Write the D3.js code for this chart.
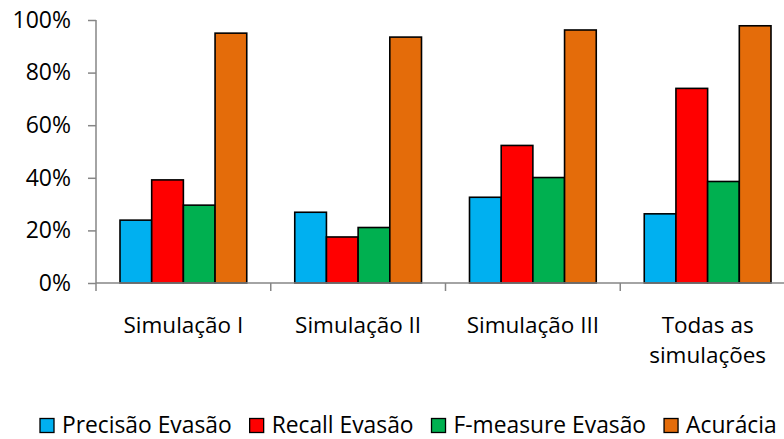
<!DOCTYPE html>
<html><head><meta charset="utf-8">
<script src="https://cdn.jsdelivr.net/npm/d3@7"></script>
<style>body{margin:0;background:#fff}svg{display:block}text{font-family:"Open Sans",sans-serif;fill:#000}</style>
</head><body><svg id="c" width="784" height="439"></svg>
<script>
const categories = [["Simulação I"],["Simulação II"],["Simulação III"],["Todas as","simulações"]];
const seriesNames = ["Precisão Evasão","Recall Evasão","F-measure Evasão","Acurácia"];
const precisao = [23.9, 26.9, 32.6, 26.3];
const recall   = [39.2, 17.5, 52.3, 74.0];
const fmeasure = [29.6, 21.1, 40.1, 38.6];
const acuracia = [95.0, 93.5, 96.2, 97.8];
const yTicks = [0,20,40,60,80,100];
const colors = ["#00B0F0","#FF0000","#00B050","#E46C0A"];

(function(){
const series = [precisao, recall, fmeasure, acuracia];
const svg = d3.select("#c");
const pL = 96, pR = 795, pT = 20, pB = 283;
const x = d3.scaleBand().domain(d3.range(categories.length)).range([pL, pR]).padding(0);
const gw = x.bandwidth();
const xi = d3.scaleBand().domain(d3.range(series.length)).range([24, gw-24]).padding(0);
const y = d3.scaleLinear().domain([0,100]).range([pB, pT]);
const axisColor = "#868686";

// bars
categories.forEach((c, ci) => {
  series.forEach((s, si) => {
    svg.append("rect")
      .attr("x", x(ci) + xi(si))
      .attr("y", y(s[ci]))
      .attr("width", xi.bandwidth())
      .attr("height", y(0) - y(s[ci]))
      .attr("fill", colors[si])
      .attr("stroke", "#000").attr("stroke-width", 1.6);
  });
});

// y axis
const ya = svg.append("g").attr("transform", `translate(${pL},0)`)
  .call(d3.axisLeft(y).tickValues(yTicks).tickSize(8).tickPadding(17).tickFormat(d => d + "%"));
ya.select(".domain").attr("stroke", axisColor).attr("stroke-width", 1.5).attr("d", `M0,${pT}V${pB}`);
ya.selectAll(".tick line").attr("stroke", axisColor).attr("stroke-width", 1.5);
ya.selectAll(".tick text").style("font-family", '"Open Sans",sans-serif').style("font-size", "23px").attr("fill", "#000");

// x axis
const xa = svg.append("g").attr("transform", `translate(0,${pB})`);
xa.append("line").attr("x1", pL).attr("x2", pR).attr("stroke", axisColor).attr("stroke-width", 1.5);
d3.range(categories.length + 1).forEach(i => {
  const xx = pL + i * gw;
  xa.append("line").attr("x1", xx).attr("x2", xx).attr("y1", 0).attr("y2", 8).attr("stroke", axisColor).attr("stroke-width", 1.5);
});
categories.forEach((lines, ci) => {
  lines.forEach((l, li) => {
    svg.append("text").attr("x", x(ci) + gw/2).attr("y", 333 + li*30)
      .attr("text-anchor", "middle").style("font-size", "22.5px").text(l);
  });
});

// legend
let lx = 40;
seriesNames.forEach((n, i) => {
  svg.append("rect").attr("x", lx).attr("y", 418.5).attr("width", 14).attr("height", 14)
    .attr("fill", colors[i]).attr("stroke", "#000").attr("stroke-width", 1.3);
  const t = svg.append("text").attr("x", lx + 22).attr("y", 433).style("font-size", "22.8px").text(n);
  lx += 22 + t.node().getComputedTextLength() + 18;
});
})();
</script></body></html>
